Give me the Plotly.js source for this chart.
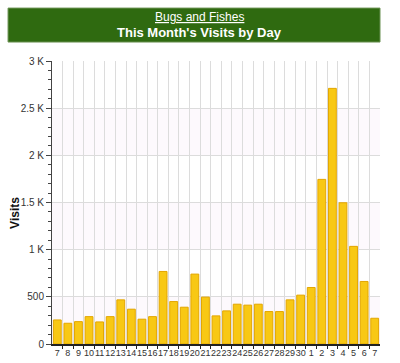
<!DOCTYPE html>
<html>
<head>
<meta charset="utf-8">
<script src="https://cdn.plot.ly/plotly-3.0.1.min.js"></script>
<style>html,body{margin:0;padding:0;background:#fff;}#chart{width:400px;height:363px;}</style>
</head>
<body>
<div id="chart"></div>
<script>
var days = ["7","8","9","10","11","12","13","14","15","16","17","18","19","20","21","22","23","24","25","26","27","28","29","30","1","2","3","4","5","6","7"];
var visits = [255,220,237,290,234,290,468,369,263,290,769,450,390,741,497,298,351,422,412,422,344,344,468,518,599,1745,2710,1497,1035,663,273];
var yTickVals = [0,500,1000,1500,2000,2500,3000];
var yTickText = ["0","500","1 K","1.5 K","2 K","2.5 K","3 K"];

var idx = days.map(function(_, i){ return i; });
var bounds = days.map(function(_, i){ return i + 0.5; }).slice(0, days.length - 1);

var bands = [];
for (var k = 0; k < yTickVals.length - 1; k += 2) {
  bands.push({type:'rect', xref:'paper', yref:'y', x0:0, x1:1, y0:yTickVals[k], y1:yTickVals[k+1],
    fillcolor:'#fdf9fd', line:{width:0}, layer:'below'});
}
bands.push({type:'rect', xref:'paper', yref:'paper', x0:-0.134, x1:1.0, y0:1.067, y1:1.187,
  fillcolor:'#2f6a10', line:{color:'#6a9152', width:1}, layer:'below'});

var trace = {
  type:'bar', x: idx, y: visits,
  width: 0.74,
  marker:{color:'#f8c814', line:{color:'#e3a600', width:1}},
  hoverinfo:'skip'
};

var layout = {
  width:400, height:363,
  margin:{l:52, r:20, t:61, b:19, pad:0},
  paper_bgcolor:'#ffffff', plot_bgcolor:'rgba(0,0,0,0)',
  showlegend:false,
  font:{family:'Liberation Sans, Arial, sans-serif', color:'#333'},
  xaxis:{
    range:[-0.5, days.length - 0.5],
    tickmode:'array', tickvals: idx, ticktext: days,
    tickangle:0, automargin:false,
    ticks:'', showgrid:false, zeroline:false,
    tickfont:{size:9, color:'#333'},
    showline:true, linecolor:'#222', linewidth:1.5,
    minor:{tickmode:'array', tickvals: bounds, showgrid:true, gridcolor:'#dcdcdc', gridwidth:1, ticks:'outside', ticklen:3, tickcolor:'#222'}
  },
  yaxis:{
    range:[0, 3000],
    tickmode:'array', tickvals: yTickVals, ticktext: yTickText,
    ticks:'outside', ticklen:5, tickcolor:'#444',
    showgrid:true, gridcolor:'#dcdcdc', gridwidth:1, zeroline:false,
    showline:true, linecolor:'#444', linewidth:1,
    tickfont:{size:10, color:'#333'},
    minor:{dtick:100, tick0:0, ticks:'outside', ticklen:3, tickcolor:'#444', showgrid:false},
    automargin:false
  },
  shapes: bands,
  annotations:[
    {xref:'paper', yref:'paper', x:0.451, y:1.155, xanchor:'center', yanchor:'middle', showarrow:false,
     text:'<u>Bugs and Fishes</u>', font:{size:12, color:'#ffffff'}},
    {xref:'paper', yref:'paper', x:0.451, y:1.102, xanchor:'center', yanchor:'middle', showarrow:false,
     text:'<b>This Month\'s Visits by Day</b>', font:{size:13, color:'#ffffff'}},
    {xref:'paper', yref:'paper', x:-0.113, y:0.463, xanchor:'center', yanchor:'middle', showarrow:false,
     textangle:-90, text:'<b>Visits</b>', font:{size:12, color:'#111'}}
  ]
};

Plotly.newPlot('chart', [trace], layout, {displayModeBar:false, staticPlot:true});
</script>
</body>
</html>
